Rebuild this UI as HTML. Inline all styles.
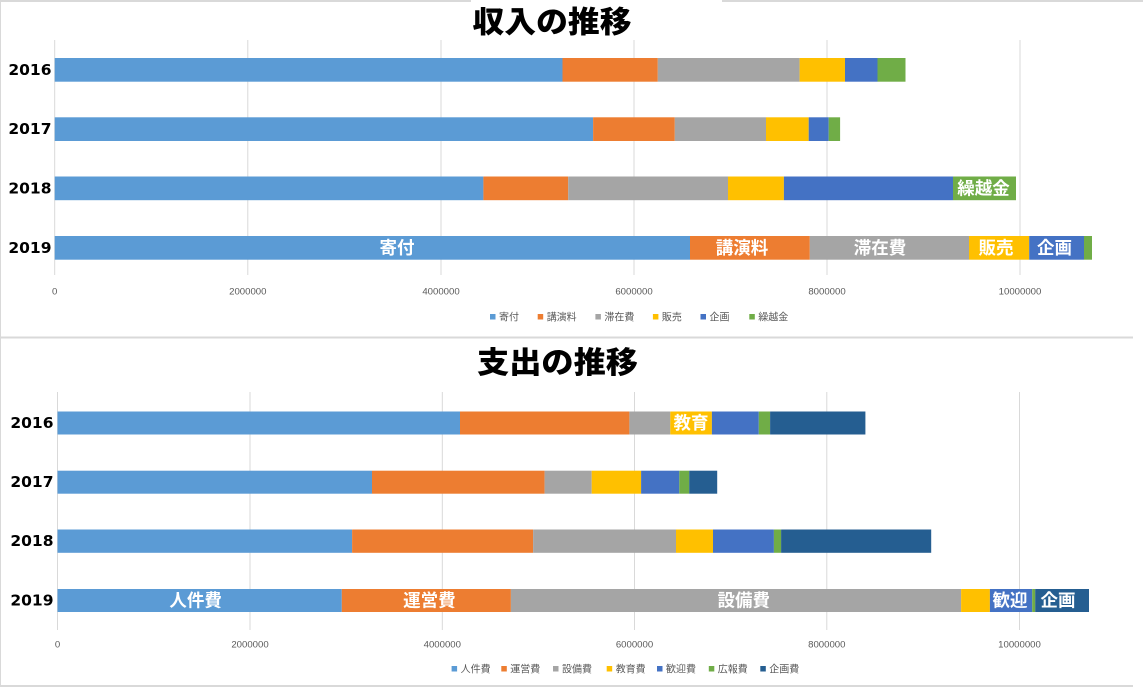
<!DOCTYPE html>
<html><head><meta charset="utf-8"><style>
html,body{margin:0;padding:0;background:#fff;}
svg{display:block;}
.yr{font-family:"DejaVu Sans","Liberation Sans",sans-serif;font-weight:bold;font-size:15.5px;fill:#000;}
.tk{font-family:"Liberation Sans",sans-serif;font-size:9.6px;fill:#595959;}
.lg{font-family:"Liberation Sans","Noto Sans CJK JP",sans-serif;font-size:10px;fill:#595959;}
.ttl{font-family:"Liberation Sans","Noto Sans CJK JP",sans-serif;font-weight:900;font-size:30px;fill:#000;}
.dl{font-family:"Liberation Sans","Noto Sans CJK JP",sans-serif;font-weight:bold;font-size:17.5px;fill:#fff;}
</style></head><body>
<svg width="1143" height="687" viewBox="0 0 1143 687" xmlns="http://www.w3.org/2000/svg">
<rect width="1143" height="687" fill="#fff"/>
<!-- borders -->
<line x1="0" y1="1" x2="471" y2="1" stroke="#d9d9d9" stroke-width="2"/>
<line x1="722" y1="1" x2="1143" y2="1" stroke="#d9d9d9" stroke-width="2"/>
<line x1="0.5" y1="0" x2="0.5" y2="687" stroke="#d9d9d9" stroke-width="1"/>
<line x1="0" y1="337.5" x2="1133" y2="337.5" stroke="#d9d9d9" stroke-width="2"/>
<line x1="0" y1="686" x2="1133" y2="686" stroke="#d9d9d9" stroke-width="2"/>

<!-- ===== TOP CHART ===== -->
<text class="ttl" x="552" y="23" text-anchor="middle" dominant-baseline="central" textLength="159" lengthAdjust="spacingAndGlyphs">収入の推移</text>
<g stroke="#d9d9d9" stroke-width="1">
<line x1="54.7" y1="40" x2="54.7" y2="275"/>
<line x1="247.8" y1="40" x2="247.8" y2="275"/>
<line x1="441" y1="40" x2="441" y2="275"/>
<line x1="634" y1="40" x2="634" y2="275"/>
<line x1="827" y1="40" x2="827" y2="275"/>
<line x1="1020" y1="40" x2="1020" y2="275"/>
</g>
<!-- 2016 -->
<g>
<rect x="54.7" y="58" width="507.8" height="23.7" fill="#5B9BD5"/>
<rect x="562.5" y="58" width="95.3" height="23.7" fill="#ED7D31"/>
<rect x="657.8" y="58" width="141.8" height="23.7" fill="#A5A5A5"/>
<rect x="799.6" y="58" width="45.4" height="23.7" fill="#FFC000"/>
<rect x="845" y="58" width="32.5" height="23.7" fill="#4472C4"/>
<rect x="877.5" y="58" width="28" height="23.7" fill="#70AD47"/>
</g>
<!-- 2017 -->
<g>
<rect x="54.7" y="117.3" width="538.4" height="23.7" fill="#5B9BD5"/>
<rect x="593.1" y="117.3" width="81.7" height="23.7" fill="#ED7D31"/>
<rect x="674.8" y="117.3" width="91.2" height="23.7" fill="#A5A5A5"/>
<rect x="766" y="117.3" width="42.7" height="23.7" fill="#FFC000"/>
<rect x="808.7" y="117.3" width="20" height="23.7" fill="#4472C4"/>
<rect x="828.7" y="117.3" width="11.4" height="23.7" fill="#70AD47"/>
</g>
<!-- 2018 -->
<g>
<rect x="54.7" y="176.5" width="428.7" height="23.7" fill="#5B9BD5"/>
<rect x="483.4" y="176.5" width="84.8" height="23.7" fill="#ED7D31"/>
<rect x="568.2" y="176.5" width="159.8" height="23.7" fill="#A5A5A5"/>
<rect x="728" y="176.5" width="55.9" height="23.7" fill="#FFC000"/>
<rect x="783.9" y="176.5" width="169.1" height="23.7" fill="#4472C4"/>
<rect x="953" y="176.5" width="63" height="23.7" fill="#70AD47"/>
</g>
<!-- 2019 -->
<g>
<rect x="54.7" y="236" width="635.3" height="23.7" fill="#5B9BD5"/>
<rect x="690" y="236" width="119.8" height="23.7" fill="#ED7D31"/>
<rect x="809.8" y="236" width="159.2" height="23.7" fill="#A5A5A5"/>
<rect x="969" y="236" width="60.2" height="23.7" fill="#FFC000"/>
<rect x="1029.2" y="236" width="54.8" height="23.7" fill="#4472C4"/>
<rect x="1084" y="236" width="8" height="23.7" fill="#70AD47"/>
</g>
<text class="dl" x="983.5" y="188.5" text-anchor="middle" dominant-baseline="central">繰越金</text>
<text class="dl" x="397" y="248" text-anchor="middle" dominant-baseline="central">寄付</text>
<text class="dl" x="742" y="248" text-anchor="middle" dominant-baseline="central">講演料</text>
<text class="dl" x="880" y="248" text-anchor="middle" dominant-baseline="central">滞在費</text>
<text class="dl" x="996" y="248" text-anchor="middle" dominant-baseline="central">販売</text>
<text class="dl" x="1054.5" y="248" text-anchor="middle" dominant-baseline="central">企画</text>

<text class="yr" x="51.5" y="70" text-anchor="end" dominant-baseline="central">2016</text>
<text class="yr" x="51.5" y="129.2" text-anchor="end" dominant-baseline="central">2017</text>
<text class="yr" x="51.5" y="188.4" text-anchor="end" dominant-baseline="central">2018</text>
<text class="yr" x="51.5" y="248" text-anchor="end" dominant-baseline="central">2019</text>

<g class="tk" text-anchor="middle">
<text x="54.7" y="294.5">0</text>
<text x="247.8" y="294.5">2000000</text>
<text x="441" y="294.5">4000000</text>
<text x="634" y="294.5">6000000</text>
<text x="827" y="294.5">8000000</text>
<text x="1020" y="294.5">10000000</text>
</g>
<g>
<rect x="490" y="314" width="5.5" height="5.5" fill="#5B9BD5"/><text class="lg" x="499" y="320.5">寄付</text>
<rect x="537.7" y="314" width="5.5" height="5.5" fill="#ED7D31"/><text class="lg" x="546.7" y="320.5">講演料</text>
<rect x="595.4" y="314" width="5.5" height="5.5" fill="#A5A5A5"/><text class="lg" x="604.4" y="320.5">滞在費</text>
<rect x="652.9" y="314" width="5.5" height="5.5" fill="#FFC000"/><text class="lg" x="661.9" y="320.5">販売</text>
<rect x="700.5" y="314" width="5.5" height="5.5" fill="#4472C4"/><text class="lg" x="709.5" y="320.5">企画</text>
<rect x="749.3" y="314" width="5.5" height="5.5" fill="#70AD47"/><text class="lg" x="758.3" y="320.5">繰越金</text>
</g>

<!-- ===== BOTTOM CHART ===== -->
<text class="ttl" x="557.5" y="363.5" text-anchor="middle" dominant-baseline="central" textLength="161" lengthAdjust="spacingAndGlyphs">支出の推移</text>
<g stroke="#d9d9d9" stroke-width="1">
<line x1="57.5" y1="392" x2="57.5" y2="630"/>
<line x1="250" y1="392" x2="250" y2="630"/>
<line x1="442.3" y1="392" x2="442.3" y2="630"/>
<line x1="634.5" y1="392" x2="634.5" y2="630"/>
<line x1="826.8" y1="392" x2="826.8" y2="630"/>
<line x1="1019.5" y1="392" x2="1019.5" y2="630"/>
</g>
<!-- 2016 -->
<g>
<rect x="57.5" y="411.5" width="402.5" height="23" fill="#5B9BD5"/>
<rect x="460" y="411.5" width="169.4" height="23" fill="#ED7D31"/>
<rect x="629.4" y="411.5" width="40.9" height="23" fill="#A5A5A5"/>
<rect x="670.3" y="411.5" width="41.6" height="23" fill="#FFC000"/>
<rect x="711.9" y="411.5" width="46.9" height="23" fill="#4472C4"/>
<rect x="758.8" y="411.5" width="11.3" height="23" fill="#70AD47"/>
<rect x="770.1" y="411.5" width="95.3" height="23" fill="#255E91"/>
</g>
<!-- 2017 -->
<g>
<rect x="57.5" y="470.7" width="314.5" height="23" fill="#5B9BD5"/>
<rect x="372" y="470.7" width="172.6" height="23" fill="#ED7D31"/>
<rect x="544.6" y="470.7" width="47.1" height="23" fill="#A5A5A5"/>
<rect x="591.7" y="470.7" width="49.4" height="23" fill="#FFC000"/>
<rect x="641.1" y="470.7" width="38.2" height="23" fill="#4472C4"/>
<rect x="679.3" y="470.7" width="9.9" height="23" fill="#70AD47"/>
<rect x="689.2" y="470.7" width="28" height="23" fill="#255E91"/>
</g>
<!-- 2018 -->
<g>
<rect x="57.5" y="529.5" width="294.6" height="23.3" fill="#5B9BD5"/>
<rect x="352.1" y="529.5" width="181" height="23.3" fill="#ED7D31"/>
<rect x="533.1" y="529.5" width="142.9" height="23.3" fill="#A5A5A5"/>
<rect x="676" y="529.5" width="37" height="23.3" fill="#FFC000"/>
<rect x="713" y="529.5" width="60.9" height="23.3" fill="#4472C4"/>
<rect x="773.9" y="529.5" width="7.2" height="23.3" fill="#70AD47"/>
<rect x="781.1" y="529.5" width="150.1" height="23.3" fill="#255E91"/>
</g>
<!-- 2019 -->
<g>
<rect x="57.5" y="589" width="284.3" height="23" fill="#5B9BD5"/>
<rect x="341.8" y="589" width="169.1" height="23" fill="#ED7D31"/>
<rect x="510.9" y="589" width="450.2" height="23" fill="#A5A5A5"/>
<rect x="961.1" y="589" width="28.8" height="23" fill="#FFC000"/>
<rect x="989.9" y="589" width="42.3" height="23" fill="#4472C4"/>
<rect x="1032.2" y="589" width="3" height="23" fill="#70AD47"/>
<rect x="1035.2" y="589" width="53.8" height="23" fill="#255E91"/>
</g>
<text class="dl" x="691" y="423" text-anchor="middle" dominant-baseline="central">教育</text>
<text class="dl" x="195.6" y="600.5" text-anchor="middle" dominant-baseline="central">人件費</text>
<text class="dl" x="429.4" y="600.5" text-anchor="middle" dominant-baseline="central">運営費</text>
<text class="dl" x="743.8" y="600.5" text-anchor="middle" dominant-baseline="central">設備費</text>
<text class="dl" x="1010" y="600.5" text-anchor="middle" dominant-baseline="central">歓迎</text>
<text class="dl" x="1058" y="600.5" text-anchor="middle" dominant-baseline="central">企画</text>

<text class="yr" x="53.5" y="423" text-anchor="end" dominant-baseline="central">2016</text>
<text class="yr" x="53.5" y="482.2" text-anchor="end" dominant-baseline="central">2017</text>
<text class="yr" x="53.5" y="541.2" text-anchor="end" dominant-baseline="central">2018</text>
<text class="yr" x="53.5" y="600.5" text-anchor="end" dominant-baseline="central">2019</text>

<g class="tk" text-anchor="middle">
<text x="57.5" y="647.5">0</text>
<text x="250" y="647.5">2000000</text>
<text x="442.3" y="647.5">4000000</text>
<text x="634.5" y="647.5">6000000</text>
<text x="826.8" y="647.5">8000000</text>
<text x="1019.5" y="647.5">10000000</text>
</g>
<g>
<rect x="451.6" y="666" width="5.5" height="5.5" fill="#5B9BD5"/><text class="lg" x="460.6" y="672.5">人件費</text>
<rect x="501.3" y="666" width="5.5" height="5.5" fill="#ED7D31"/><text class="lg" x="510.3" y="672.5">運営費</text>
<rect x="553" y="666" width="5.5" height="5.5" fill="#A5A5A5"/><text class="lg" x="562" y="672.5">設備費</text>
<rect x="606.7" y="666" width="5.5" height="5.5" fill="#FFC000"/><text class="lg" x="615.7" y="672.5">教育費</text>
<rect x="657" y="666" width="5.5" height="5.5" fill="#4472C4"/><text class="lg" x="666" y="672.5">歓迎費</text>
<rect x="708.8" y="666" width="5.5" height="5.5" fill="#70AD47"/><text class="lg" x="717.8" y="672.5">広報費</text>
<rect x="760.3" y="666" width="5.5" height="5.5" fill="#255E91"/><text class="lg" x="769.3" y="672.5">企画費</text>
</g>
</svg>
</body></html>
